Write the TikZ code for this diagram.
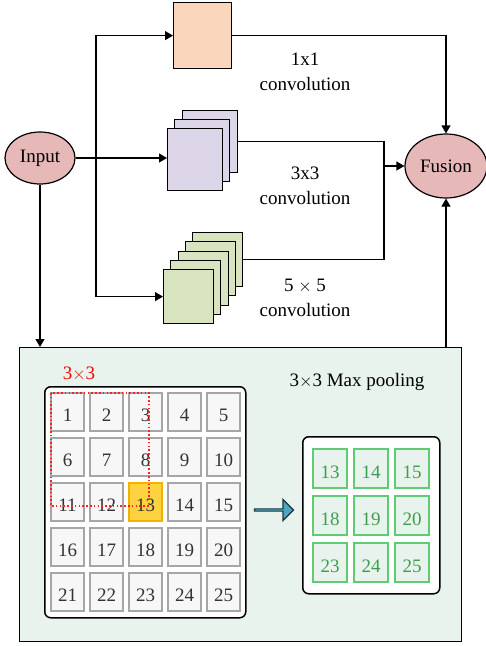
\documentclass[tikz,border=0pt]{standalone}
\usepackage{fontspec}
\setmainfont{Liberation Serif}
\usetikzlibrary{arrows.meta,shapes.arrows,shapes.geometric}
\definecolor{peach}{HTML}{FAD7BC}
\definecolor{lav}{HTML}{DDD6E8}
\definecolor{lgreen}{HTML}{D7E4BF}
\definecolor{pinkell}{HTML}{E6B8B7}
\definecolor{panelc}{HTML}{E7F3EC}
\definecolor{cellf}{HTML}{F7F7F7}
\definecolor{celld}{HTML}{A6A6A6}
\definecolor{goldf}{HTML}{FFD33F}
\definecolor{goldd}{HTML}{F2B200}
\definecolor{arrf}{HTML}{4BA8C4}
\definecolor{arrd}{HTML}{1E3440}
\definecolor{gcell}{HTML}{5FCB72}
\definecolor{gtext}{HTML}{3E9E50}
\definecolor{numc}{HTML}{333333}
\definecolor{dotred}{HTML}{FF2020}
\begin{document}
\begin{tikzpicture}[x=1pt,y=-1pt,
  font=\fontsize{19}{22}\selectfont,
  box/.style={draw=black, line width=1.2pt, inner sep=0pt, anchor=north west},
  ell/.style={ellipse, draw=black, line width=1.2pt, fill=pinkell, inner sep=0pt},
  conn/.style={line width=1.2pt},
  arr/.style={line width=1.2pt, -{Triangle[length=8pt,width=9pt]}},
  cell/.style={draw=celld, fill=cellf, line width=1.6pt, inner sep=0pt, minimum width=33pt, minimum height=38pt},
  gcellst/.style={draw=gcell, fill=panelc, line width=1.6pt, inner sep=0pt, minimum width=34pt, minimum height=39pt},
  num/.style={text=numc, inner sep=0pt},
  gnum/.style={text=gtext, inner sep=0pt},
  frame/.style={draw=black, fill=white, line width=1.5pt, rounded corners=6pt, inner sep=0pt, anchor=north west},
  lbl/.style={align=center, inner sep=0pt}
]
\useasboundingbox (0,0) rectangle (486,646);

% top boxes
\node[box, fill=peach, minimum width=58pt, minimum height=66pt] (c1) at (173,2) {};

\node[box, fill=lav, minimum width=55pt, minimum height=62pt] (c3b) at (182,110) {};
\node[box, fill=lav, minimum width=55pt, minimum height=62pt] (c3m) at (174,119) {};
\node[box, fill=lav, minimum width=55pt, minimum height=62pt] (c3) at (167,128) {};

\node[box, fill=lgreen, minimum width=50pt, minimum height=54pt] (c5b) at (192,232) {};
\node[box, fill=lgreen, minimum width=50pt, minimum height=54pt] (c5x) at (184.75,241.25) {};
\node[box, fill=lgreen, minimum width=50pt, minimum height=54pt] (c5y) at (177.5,250.5) {};
\node[box, fill=lgreen, minimum width=50pt, minimum height=54pt] (c5z) at (170.25,259.75) {};
\node[box, fill=lgreen, minimum width=50pt, minimum height=54pt] (c5) at (163,269) {};

% ellipses
\node[ell, minimum width=70pt, minimum height=52pt] (in) at (40,158) {Input};
\node[ell, minimum width=82pt, minimum height=64pt] (fu) at (446,166) {Fusion};

% labels
\node[lbl] (l1) at (305,72) {1x1\\[3pt]convolution};
\node[lbl] (l3) at (305,186) {3x3\\[3pt]convolution};
\node[lbl] (l5) at (305,298) {5 $\times$ 5\\[3pt]convolution};

% panel
\node[box, fill=panelc, minimum width=442pt, minimum height=294pt] (pan) at (19,347) {};

% connectors
\coordinate (br) at (96,158);
\coordinate (mg) at (384,166);
\draw[arr] (in.east) -- (c3.west |- in.east);
\draw[arr] (br) |- (c1.west);
\draw[arr] (br) |- (c5.west);
\draw[arr] (c1.east) -| (fu.north);
\draw[conn] (c3b.east) -| (mg);
\draw[conn] (c5b.east) -| (mg);
\draw[arr] (mg) -- (fu.west);
\draw[arr] (in.south) -- (in.south |- pan.north);
\draw[arr] (pan.north -| fu.south) -- (fu.south);

% left grid
\node[frame, minimum width=201pt, minimum height=231pt] (lf) at (44,386) {};
\foreach \r in {0,...,4} {
  \foreach \c in {0,...,4} {
    \pgfmathtruncatemacro\n{5*\r+\c+1}
    \node[cell] (g\n) at (67.5+39*\c, 412+45*\r) {};
  }
}
\node[cell, fill=goldf, draw=goldd] (g13b) at (g13) {};
\foreach \r in {0,...,4} {
  \foreach \c in {0,...,4} {
    \pgfmathtruncatemacro\n{5*\r+\c+1}
    \node[num] (n\n) at (67.5+39*\c, 415+45*\r) {\n};
  }
}
\coordinate (rda) at (51,393);
\coordinate (rdb) at (149,506);
\draw[dotred, line width=1.4pt, dash pattern=on 1.6pt off 2.2pt] (rda) rectangle (rdb);
\node[text=red, inner sep=0pt] (w3) at (79,374) {3$\times$3};
\node[inner sep=0pt] (mp) at (357,382) {3$\times$3 Max pooling};

% arrow
\node[single arrow, draw=arrd, fill=arrf, line width=1.2pt, minimum height=39pt, minimum width=21pt, single arrow head extend=5pt, inner sep=0pt] (ba) at (273.5,510) {};

% right grid
\node[frame, minimum width=137pt, minimum height=157pt] (rf) at (302,436) {};
\foreach \r/\a/\b/\cc in {0/13/14/15, 1/18/19/20, 2/23/24/25} {
  \node[gcellst] (h\a) at (330, 468.5+47*\r) {};
  \node[gcellst] (h\b) at (371, 468.5+47*\r) {};
  \node[gcellst] (h\cc) at (412, 468.5+47*\r) {};
  \node[gnum] at (330, 472+47*\r) {\a};
  \node[gnum] at (371, 472+47*\r) {\b};
  \node[gnum] at (412, 472+47*\r) {\cc};
}
\end{tikzpicture}
\end{document}
